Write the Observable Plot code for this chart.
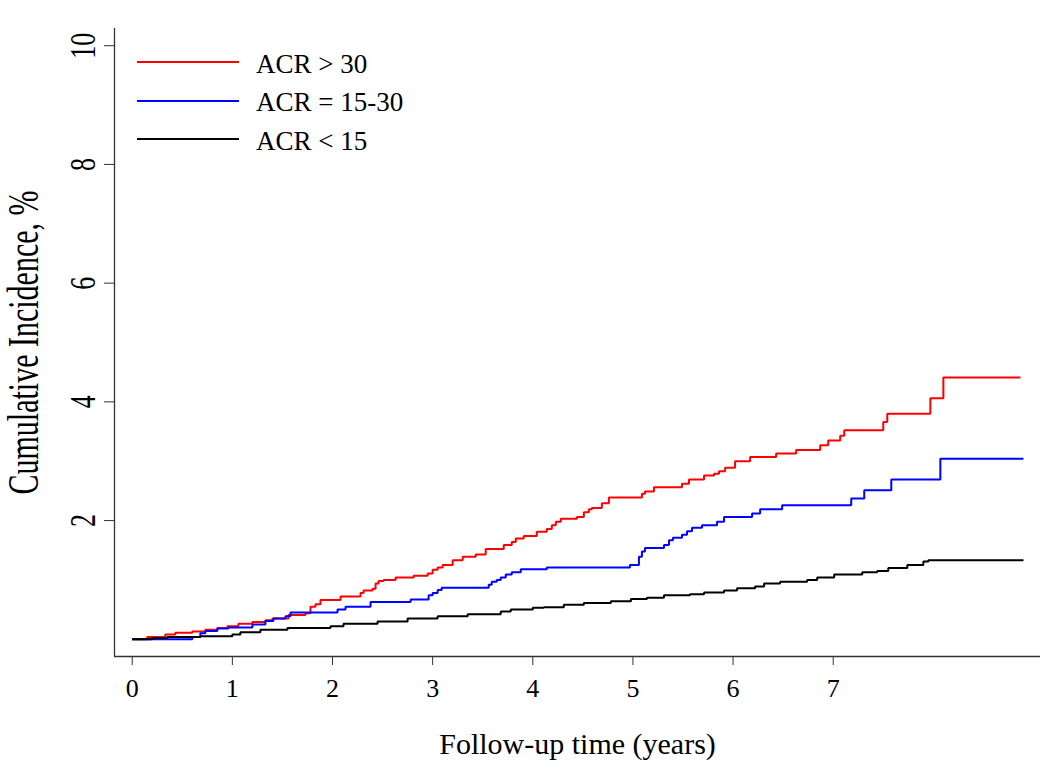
<!DOCTYPE html>
<html>
<head>
<meta charset="utf-8">
<script src="https://cdn.jsdelivr.net/npm/d3@7"></script>
<script src="https://cdn.jsdelivr.net/npm/@observablehq/plot@0.6"></script>
<style>
  body { margin: 0; background: #fff; }
  #wrap { position: relative; width: 1050px; height: 772px; }
  #legend { position: absolute; left: 137px; top: 43px; font-family: "Liberation Serif", "Times New Roman", serif; font-size: 27px; color: #000; }
  .row { display: flex; align-items: center; height: 38.5px; }
  .sw { width: 102px; height: 0; border-top: 2px solid; margin-right: 17px; }
  .lbl { position: relative; top: 2px; white-space: nowrap; }
</style>
</head>
<body>
<div id="wrap"><div id="legend"></div></div>
<script>
// ---- data ----
const seriesNames  = ["ACR > 30", "ACR = 15-30", "ACR < 15"];
const seriesColors = ["#ff0000", "#0000ff", "#000000"];

const redTime = [0,0.15,0.33,0.43,0.60,0.73,0.85,0.95,1.06,1.20,1.33,1.40,1.56,1.73,1.78,1.83,1.88,2.08,2.28,2.31,2.40,2.43,2.46,2.51,2.63,2.81,2.95,3.00,3.05,3.10,3.20,3.30,3.43,3.53,3.71,3.79,3.83,3.91,4.04,4.14,4.19,4.23,4.28,4.44,4.51,4.56,4.59,4.69,4.76,5.09,5.12,5.21,5.49,5.56,5.71,5.81,5.86,5.92,6.02,6.17,6.43,6.63,6.87,6.95,7.07,7.11,7.50,7.54,7.97,8.10,8.87];
const redInc  = [0,0.04,0.08,0.11,0.13,0.16,0.19,0.22,0.26,0.29,0.32,0.35,0.41,0.44,0.55,0.59,0.66,0.72,0.78,0.82,0.85,0.94,0.98,1.00,1.04,1.07,1.11,1.17,1.21,1.25,1.33,1.39,1.43,1.52,1.59,1.64,1.70,1.74,1.81,1.86,1.92,1.98,2.03,2.06,2.14,2.19,2.21,2.29,2.39,2.45,2.49,2.56,2.62,2.69,2.76,2.79,2.83,2.89,3.00,3.07,3.13,3.19,3.27,3.35,3.43,3.52,3.66,3.80,4.06,4.41,4.41];

const blueTime = [0,0.60,0.68,0.73,0.85,0.96,1.20,1.33,1.41,1.53,1.58,2.05,2.13,2.38,2.78,2.96,3.00,3.05,3.09,3.56,3.59,3.64,3.68,3.73,3.79,3.88,4.14,4.97,5.06,5.09,5.12,5.31,5.36,5.40,5.49,5.54,5.59,5.69,5.84,5.91,6.19,6.27,6.49,7.18,7.31,7.58,8.07,8.90];
const blueInc  = [0,0.04,0.10,0.14,0.18,0.20,0.25,0.31,0.35,0.39,0.45,0.50,0.55,0.63,0.67,0.74,0.78,0.83,0.87,0.92,0.97,1.00,1.04,1.09,1.13,1.18,1.21,1.25,1.39,1.48,1.54,1.59,1.67,1.71,1.76,1.82,1.88,1.92,1.98,2.06,2.12,2.19,2.26,2.37,2.51,2.69,3.04,3.04];

const blackTime = [0,0.20,0.35,0.68,1.00,1.08,1.28,1.55,1.98,2.11,2.45,2.75,3.05,3.35,3.68,3.78,4.00,4.11,4.31,4.51,4.78,4.98,5.14,5.31,5.57,5.71,5.91,6.04,6.22,6.31,6.47,6.74,6.84,7.01,7.29,7.44,7.55,7.74,7.90,7.95,8.90];
const blackInc  = [0,0.02,0.04,0.05,0.08,0.12,0.16,0.19,0.22,0.26,0.30,0.35,0.39,0.42,0.47,0.50,0.53,0.54,0.58,0.61,0.64,0.68,0.70,0.74,0.76,0.79,0.82,0.86,0.89,0.94,0.97,1.00,1.04,1.09,1.13,1.15,1.20,1.25,1.31,1.33,1.33];

const xTicks = [0, 1, 2, 3, 4, 5, 6, 7];
const yTicks = [2, 4, 6, 8, 10];
const xTitle = "Follow-up time (years)";
const yTitle = "Cumulative Incidence, %";

// ---- build table ----
const seriesTimes = [redTime, blueTime, blackTime];
const seriesIncs  = [redInc, blueInc, blackInc];
const rows = [];
seriesNames.forEach((name, s) => {
  seriesTimes[s].forEach((t, i) => rows.push({group: name, time: t, inc: seriesIncs[s][i]}));
});

const xDomain = [-0.177, 9.07];
const yDomain = [-0.29, 10.29];
const serif = "'Liberation Serif', 'Times New Roman', serif";
const axisColor = "#333";

const chart = Plot.plot({
  width: 1050,
  height: 772,
  marginLeft: 114,
  marginRight: 10,
  marginTop: 28,
  marginBottom: 116,
  style: {fontFamily: serif, fontSize: "26px", background: "#fff", color: "#000"},
  x: {domain: xDomain},
  y: {domain: yDomain},
  color: {domain: seriesNames, range: seriesColors},
  marks: [
    Plot.ruleY([yDomain[0]], {stroke: axisColor, strokeWidth: 1.3}),
    Plot.ruleX([xDomain[0]], {stroke: axisColor, strokeWidth: 1.3}),
    Plot.axisX({ticks: xTicks, tickSize: 9, tickPadding: 13, label: null, stroke: axisColor, tickFormat: d => String(d)}),
    // y tick marks
    Plot.axisY({ticks: yTicks, tickSize: 10, label: null, stroke: axisColor, tickFormat: () => ""}),
    // y tick labels, rotated as in the reference
    Plot.axisY({ticks: yTicks, tickSize: 0, tickPadding: 31, label: null, rotate: -90, textAnchor: "middle", tickFormat: d => String(d)}),
    Plot.line(rows, {x: "time", y: "inc", z: "group", stroke: "group", strokeWidth: 2, curve: "step-after", strokeLinejoin: "miter", strokeLinecap: "butt"}),
    Plot.text([xTitle], {frameAnchor: "bottom", dy: 88, lineAnchor: "middle", textAnchor: "middle", fontSize: 30}),
    Plot.text([yTitle], {frameAnchor: "left", dx: -90, rotate: -90, lineAnchor: "middle", textAnchor: "middle", fontSize: 30})
  ]
});

document.getElementById("wrap").prepend(chart);

// rotated text in the reference is drawn taller across the axis direction
d3.select(chart).selectAll("text").each(function() {
  const tr = this.getAttribute("transform");
  if (tr && tr.includes("rotate(-90")) {
    const isTitle = this.textContent === yTitle;
    this.setAttribute("transform", tr + (isTitle ? " scale(1,1.45)" : " scale(1,1.35)"));
  }
});

// legend
const legend = d3.select("#legend");
seriesNames.forEach((name, i) => {
  const r = legend.append("div").attr("class", "row");
  r.append("div").attr("class", "sw").style("border-color", seriesColors[i]);
  r.append("span").attr("class", "lbl").text(name);
});
</script>
</body>
</html>
